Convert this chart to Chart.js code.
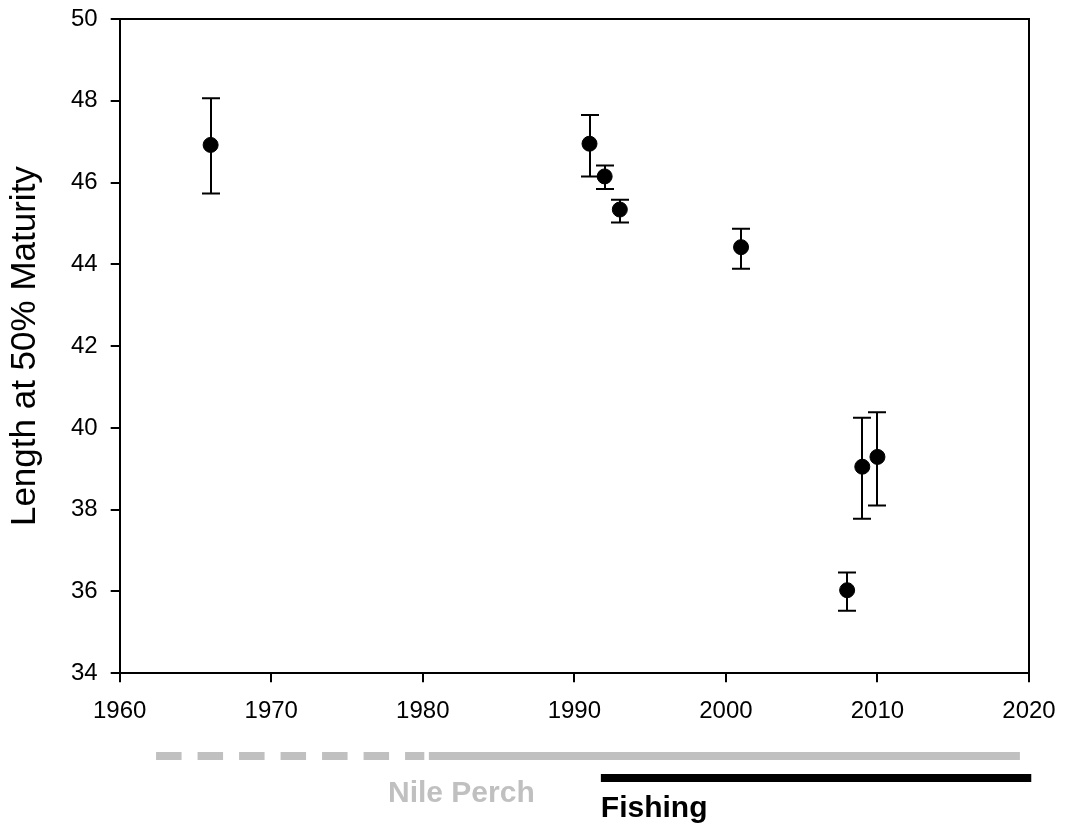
<!DOCTYPE html>
<html>
<head>
<meta charset="utf-8">
<script src="https://cdn.jsdelivr.net/npm/chart.js@4"></script>
<style>
  html, body { margin: 0; padding: 0; background: #fff; }
  #wrap { width: 1065px; height: 829px; }
</style>
</head>
<body>
<div id="wrap"><canvas id="chart" width="1065" height="829"></canvas></div>
<script>
// años de muestreo y talla a 50% de madurez
const anios = [1966, 1991, 1992, 1993, 2001, 2008, 2009, 2010];
const talla = [46.92, 46.95, 46.15, 45.34, 44.42, 36.03, 39.05, 39.29];
const limSup = [48.06, 47.65, 46.42, 45.58, 44.87, 36.46, 40.25, 40.38];
const limInf = [45.73, 46.15, 45.84, 45.02, 43.89, 35.53, 37.78, 38.10];

// periodos bajo el eje x
const percaDiscontinua = [1962.4, 1980.1];
const percaContinua = [1980.4, 2019.4];
const pesca = [1991.75, 2020.15];

const puntos = anios.map((a, i) => ({ x: a, y: talla[i] }));
const fuente = '"Liberation Sans", Arial, sans-serif';

const barrasError = {
    id: 'barrasError',
    afterDatasetsDraw(chart) {
        const ctx = chart.ctx;
        const x = chart.scales.x;
        const y = chart.scales.y;
        ctx.save();
        ctx.strokeStyle = '#000';
        ctx.lineWidth = 2;
        anios.forEach((a, i) => {
            const px = Math.round(x.getPixelForValue(a));
            const ys = y.getPixelForValue(limSup[i]);
            const yi = y.getPixelForValue(limInf[i]);
            ctx.beginPath();
            ctx.moveTo(px, ys); ctx.lineTo(px, yi);
            ctx.moveTo(px - 9, ys); ctx.lineTo(px + 9, ys);
            ctx.moveTo(px - 9, yi); ctx.lineTo(px + 9, yi);
            ctx.stroke();
        });
        ctx.restore();
    }
};

const marco = {
    id: 'marco',
    afterDraw(chart) {
        const ctx = chart.ctx;
        const a = chart.chartArea;
        ctx.save();
        ctx.strokeStyle = '#000';
        ctx.lineWidth = 2;
        ctx.beginPath();
        ctx.moveTo(a.left, a.top); ctx.lineTo(a.right, a.top); ctx.lineTo(a.right, a.bottom);
        ctx.stroke();
        ctx.restore();
    }
};

const periodos = {
    id: 'periodos',
    afterDraw(chart) {
        const ctx = chart.ctx;
        const x = chart.scales.x;
        ctx.save();
        ctx.lineWidth = 8;
        ctx.strokeStyle = '#c0c0c0';
        ctx.setLineDash([25.5, 16]);
        ctx.beginPath();
        ctx.moveTo(x.getPixelForValue(percaDiscontinua[0]), 756);
        ctx.lineTo(x.getPixelForValue(percaDiscontinua[1]), 756);
        ctx.stroke();
        ctx.setLineDash([]);
        ctx.beginPath();
        ctx.moveTo(x.getPixelForValue(percaContinua[0]), 756);
        ctx.lineTo(x.getPixelForValue(percaContinua[1]), 756);
        ctx.stroke();
        ctx.strokeStyle = '#000';
        ctx.beginPath();
        ctx.moveTo(x.getPixelForValue(pesca[0]), 778);
        ctx.lineTo(x.getPixelForValue(pesca[1]), 778);
        ctx.stroke();

        ctx.font = 'bold 30px ' + fuente;
        ctx.textBaseline = 'alphabetic';
        ctx.textAlign = 'left';
        ctx.fillStyle = '#c0c0c0';
        ctx.fillText('Nile Perch', 388, 802);
        ctx.fillStyle = '#000';
        ctx.fillText('Fishing', x.getPixelForValue(pesca[0]), 817);
        ctx.restore();
    }
};

// sin relleno automático por las etiquetas de los extremos
function sinRelleno(escala) {
    escala.paddingLeft = 0;
    escala.paddingRight = 0;
    escala.paddingTop = 0;
    escala.paddingBottom = 0;
}

const ctx = document.getElementById('chart').getContext('2d');
new Chart(ctx, {
    type: 'scatter',
    data: {
        datasets: [{
            label: 'Talla',
            data: puntos,
            backgroundColor: '#000',
            borderColor: '#000',
            pointRadius: 7.5,
            pointHoverRadius: 7.5
        }]
    },
    options: {
        responsive: false,
        animation: false,
        layout: { padding: { top: 19, right: 36, bottom: 88, left: 4 } },
        plugins: { legend: { display: false }, tooltip: { enabled: false } },
        scales: {
            x: {
                min: 1960, max: 2020,
                afterFit: sinRelleno,
                ticks: {
                    stepSize: 10, color: '#000', padding: 15, maxRotation: 0,
                    font: { family: fuente, size: 24 },
                    callback: v => String(v)
                },
                grid: { display: true, drawOnChartArea: false, drawTicks: true, tickLength: 9, color: '#000', lineWidth: 2 },
                border: { color: '#000', width: 2 }
            },
            y: {
                min: 34, max: 50,
                afterFit: sinRelleno,
                ticks: {
                    stepSize: 2, color: '#000', padding: 13,
                    font: { family: fuente, size: 24 }
                },
                grid: { display: true, drawOnChartArea: false, drawTicks: true, tickLength: 9, color: '#000', lineWidth: 2 },
                border: { color: '#000', width: 2 },
                title: {
                    display: true, text: 'Length at 50% Maturity', color: '#000',
                    font: { family: fuente, size: 35 },
                    padding: { top: 0, bottom: 12 }
                }
            }
        }
    },
    plugins: [barrasError, marco, periodos]
});
</script>
</body>
</html>
